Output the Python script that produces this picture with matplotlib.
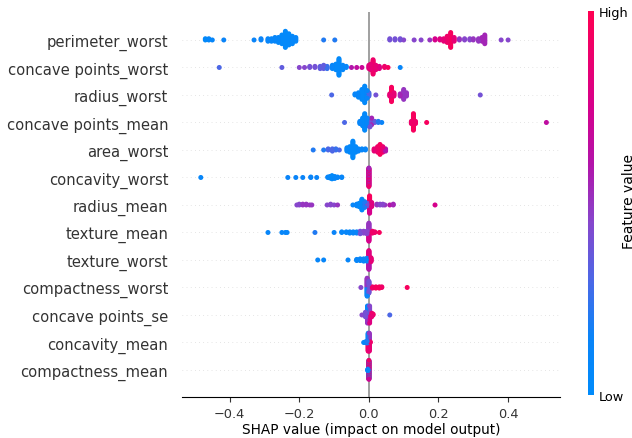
import numpy as np
import matplotlib
matplotlib.use("Agg")
import matplotlib.pyplot as plt
from matplotlib.colors import LinearSegmentedColormap, Normalize
from matplotlib.cm import ScalarMappable

# Each entry: (SHAP value, number of samples, feature value 0=low .. 1=high)
perimeter_worst = [
    (-0.47, 2, 0.05), (-0.46, 2, 0.08), (-0.45, 1, 0.1), (-0.417, 1, 0.15),
    (-0.33, 1, 0.15), (-0.31, 2, 0.15), (-0.29, 3, 0.12), (-0.28, 3, 0.1),
    (-0.27, 4, 0.1), (-0.26, 5, 0.08), (-0.25, 8, 0.05), (-0.24, 14, 0.05),
    (-0.23, 10, 0.05), (-0.22, 7, 0.08), (-0.21, 4, 0.1), (-0.13, 1, 0.2),
    (-0.098, 1, 0.2), (0.06, 2, 0.4), (0.075, 2, 0.4), (0.09, 2, 0.4),
    (0.10, 1, 0.45), (0.13, 1, 0.45), (0.15, 1, 0.45), (0.175, 1, 0.5),
    (0.19, 2, 0.75), (0.204, 2, 0.8), (0.215, 3, 0.85), (0.225, 6, 0.9),
    (0.235, 13, 0.95), (0.245, 4, 0.85), (0.26, 2, 0.5), (0.275, 2, 0.45),
    (0.29, 2, 0.45), (0.30, 2, 0.5), (0.315, 3, 0.5), (0.325, 4, 0.55),
    (0.333, 8, 0.55), (0.38, 1, 0.45), (0.40, 1, 0.45),
]
concave_points_worst = [
    (-0.43, 1, 0.3), (-0.25, 1, 0.35), (-0.2, 1, 0.45), (-0.185, 1, 0.45),
    (-0.17, 2, 0.4), (-0.155, 2, 0.4), (-0.14, 3, 0.35), (-0.13, 4, 0.35),
    (-0.12, 3, 0.25), (-0.105, 4, 0.1), (-0.095, 6, 0.05), (-0.086, 16, 0.05),
    (-0.075, 5, 0.08), (-0.065, 2, 0.1), (-0.05, 1, 0.6), (-0.035, 1, 0.65),
    (-0.02, 1, 0.7), (0.0, 4, 0.8), (0.005, 6, 0.85), (0.012, 14, 0.9),
    (0.02, 5, 0.85), (0.03, 3, 0.8), (0.045, 2, 0.9), (0.055, 1, 0.95),
    (0.09, 1, 0.1),
]
radius_worst = [
    (-0.107, 1, 0.3), (-0.04, 2, 0.1), (-0.03, 5, 0.08), (-0.02, 10, 0.05),
    (-0.012, 16, 0.05), (-0.005, 8, 0.1), (0.0, 4, 0.3), (0.02, 1, 0.4),
    (0.06, 3, 0.85), (0.065, 14, 0.95), (0.072, 4, 0.85), (0.09, 3, 0.55),
    (0.10, 10, 0.5), (0.108, 4, 0.5), (0.32, 1, 0.4),
]
concave_points_mean = [
    (-0.07, 1, 0.3), (-0.026, 3, 0.1), (-0.018, 8, 0.05), (-0.012, 16, 0.05),
    (-0.005, 8, 0.1), (0.003, 6, 0.4), (0.008, 3, 0.55), (0.017, 2, 0.35),
    (0.027, 2, 0.2), (0.037, 1, 0.15), (0.122, 3, 0.9), (0.128, 16, 0.95),
    (0.134, 3, 0.9), (0.166, 1, 0.95), (0.51, 1, 0.65),
]
area_worst = [
    (-0.16, 1, 0.2), (-0.13, 1, 0.2), (-0.117, 2, 0.3), (-0.105, 3, 0.3),
    (-0.095, 2, 0.25), (-0.085, 1, 0.3), (-0.063, 4, 0.1), (-0.055, 6, 0.05),
    (-0.046, 16, 0.05), (-0.038, 6, 0.05), (-0.03, 3, 0.1), (-0.02, 2, 0.1),
    (-0.01, 2, 0.1), (0.015, 3, 0.85), (0.025, 6, 0.9), (0.032, 10, 0.95),
    (0.04, 6, 0.85), (0.048, 3, 0.6),
]
concavity_worst = [
    (-0.483, 1, 0.1), (-0.233, 1, 0.15), (-0.21, 1, 0.15), (-0.19, 1, 0.15),
    (-0.167, 2, 0.15), (-0.15, 1, 0.15), (-0.118, 2, 0.1), (-0.112, 4, 0.08),
    (-0.106, 8, 0.05), (-0.098, 5, 0.1), (-0.09, 2, 0.1), (-0.078, 2, 0.1),
    (0.0, 15, 0.9), (0.0, 15, 0.55), (0.0, 12, 0.75),
]
radius_mean = [
    (-0.207, 1, 0.45), (-0.2, 2, 0.45), (-0.19, 2, 0.5), (-0.18, 2, 0.5),
    (-0.17, 1, 0.5), (-0.164, 1, 0.5), (-0.12, 1, 0.45), (-0.11, 2, 0.45),
    (-0.1, 1, 0.45), (-0.09, 1, 0.5), (-0.046, 1, 0.1), (-0.035, 3, 0.1),
    (-0.028, 5, 0.05), (-0.02, 14, 0.05), (-0.012, 8, 0.2), (-0.005, 4, 0.4),
    (0.002, 12, 0.95), (0.002, 10, 0.75), (0.008, 6, 0.8), (0.023, 2, 0.5),
    (0.032, 2, 0.45), (0.04, 2, 0.45), (0.046, 1, 0.5), (0.06, 1, 0.6),
    (0.07, 2, 0.55), (0.19, 1, 0.75),
]
texture_mean = [
    (-0.29, 1, 0.1), (-0.25, 1, 0.1), (-0.24, 1, 0.1), (-0.235, 1, 0.1),
    (-0.155, 1, 0.2), (-0.1, 1, 0.15), (-0.078, 2, 0.1), (-0.065, 2, 0.1),
    (-0.055, 3, 0.1), (-0.045, 3, 0.1), (-0.035, 3, 0.1), (-0.025, 5, 0.4),
    (-0.015, 4, 0.45), (-0.006, 5, 0.45), (0.0, 15, 0.75), (0.0, 15, 0.5),
    (0.01, 4, 0.9), (0.017, 2, 0.9), (0.03, 1, 0.95),
]
texture_worst = [
    (-0.147, 1, 0.1), (-0.13, 1, 0.1), (-0.06, 1, 0.1), (-0.035, 3, 0.1),
    (-0.025, 4, 0.1), (-0.015, 5, 0.1), (-0.006, 6, 0.15), (0.0, 18, 0.6),
    (0.0, 17, 0.8), (0.006, 8, 0.85),
]
compactness_worst = [
    (-0.023, 1, 0.45), (-0.005, 15, 0.15), (-0.005, 15, 0.5), (0.0, 20, 0.4),
    (0.01, 3, 0.9), (0.02, 3, 0.95), (0.03, 3, 0.95), (0.037, 2, 0.9),
    (0.11, 1, 0.95),
]
concave_points_se = [
    (-0.02, 1, 0.45), (-0.01, 6, 0.4), (-0.004, 10, 0.5), (-0.004, 10, 0.1),
    (0.002, 10, 0.8), (0.002, 10, 0.45), (0.008, 5, 0.85), (0.012, 2, 0.9),
    (0.06, 1, 0.3),
]
concavity_mean = [
    (-0.015, 1, 0.1), (-0.01, 2, 0.1), (-0.005, 4, 0.2), (-0.002, 15, 0.9),
    (-0.002, 15, 0.1), (0.001, 15, 0.85), (0.001, 15, 0.5), (0.004, 2, 0.9),
]
compactness_mean = [
    (-0.003, 5, 0.1), (0.0, 25, 0.9), (0.0, 20, 0.7), (0.0, 15, 0.1),
]

feature_names = [
    "perimeter_worst", "concave points_worst", "radius_worst",
    "concave points_mean", "area_worst", "concavity_worst", "radius_mean",
    "texture_mean", "texture_worst", "compactness_worst", "concave points_se",
    "concavity_mean", "compactness_mean",
]
feature_rows = [
    perimeter_worst, concave_points_worst, radius_worst, concave_points_mean,
    area_worst, concavity_worst, radius_mean, texture_mean, texture_worst,
    compactness_worst, concave_points_se, concavity_mean, compactness_mean,
]

# SHAP red-blue colormap (low = blue, high = red)
red_blue = LinearSegmentedColormap.from_list("red_blue", [
    (0.0, "#008bfb"), (0.15, "#0a84f8"), (0.3, "#4d67e6"), (0.45, "#8746cc"),
    (0.6, "#b214aa"), (0.75, "#d6008c"), (1.0, "#ff0052"),
])


def beeswarm(groups, row_height=0.4, nbins=100):
    # stack points that fall in the same bin, alternating up / down
    shaps = np.concatenate([np.full(n, x, dtype=float) for x, n, v in groups])
    vals = np.concatenate([np.full(n, v, dtype=float) for x, n, v in groups])
    mix = np.concatenate([(np.arange(n) + 0.5) / n for x, n, v in groups])
    quant = np.round(nbins * (shaps - shaps.min()) / (shaps.max() - shaps.min() + 1e-8))
    inds = np.lexsort((mix, quant))
    ys = np.zeros(len(shaps))
    layer = 0
    last_bin = -1
    for ind in inds:
        if quant[ind] != last_bin:
            layer = 0
        ys[ind] = np.ceil(layer / 2) * ((layer % 2) * 2 - 1)
        layer += 1
        last_bin = quant[ind]
    ys *= 0.9 * (row_height / np.max(ys + 1))
    draw = np.argsort(mix, kind="stable")
    return shaps[draw], ys[draw], vals[draw]


fig = plt.figure(figsize=(6.32, 4.39), dpi=100)
ax = fig.add_axes([0.288, 0.0923, 0.598, 0.877])

n_feat = len(feature_names)
ax.axvline(x=0, color="#999999", lw=1.3, zorder=-1)
for i, (name, groups) in enumerate(zip(feature_names, feature_rows)):
    pos = n_feat - 1 - i
    ax.axhline(y=pos, color="#cccccc", lw=0.5, dashes=(1, 5), zorder=-1)
    xs, ys, cs = beeswarm(groups)
    ax.scatter(xs, pos + ys, c=cs, cmap=red_blue, vmin=0, vmax=1, s=13,
               linewidth=0, zorder=3)

ax.set_yticks(range(n_feat))
ax.set_yticklabels(feature_names[::-1], fontsize=10.6)
ax.set_ylim(-1, n_feat)
ax.set_xlim(-0.537, 0.549)
ax.set_xticks([-0.4, -0.2, 0.0, 0.2, 0.4])
ax.xaxis.set_ticks_position("bottom")
ax.yaxis.set_ticks_position("none")
for side in ["right", "top", "left"]:
    ax.spines[side].set_visible(False)
ax.tick_params(color="#333333", labelcolor="#333333")
ax.tick_params("y", length=0, pad=10)
ax.tick_params("x", labelsize=9.3)
ax.set_xlabel("SHAP value (impact on model output)", fontsize=9.8, labelpad=1)

cax = fig.add_axes([0.930, 0.098, 0.0095, 0.875])
cb = fig.colorbar(ScalarMappable(norm=Normalize(0, 1), cmap=red_blue), cax=cax, ticks=[0, 1])
cb.set_ticklabels(["Low", "High"])
cb.ax.tick_params(labelsize=9.3, length=0)
cb.outline.set_visible(False)
fig.text(0.984, 0.54, "Feature value", rotation=90, ha="left", va="center", fontsize=10)

fig.savefig("out.png", dpi=100)
